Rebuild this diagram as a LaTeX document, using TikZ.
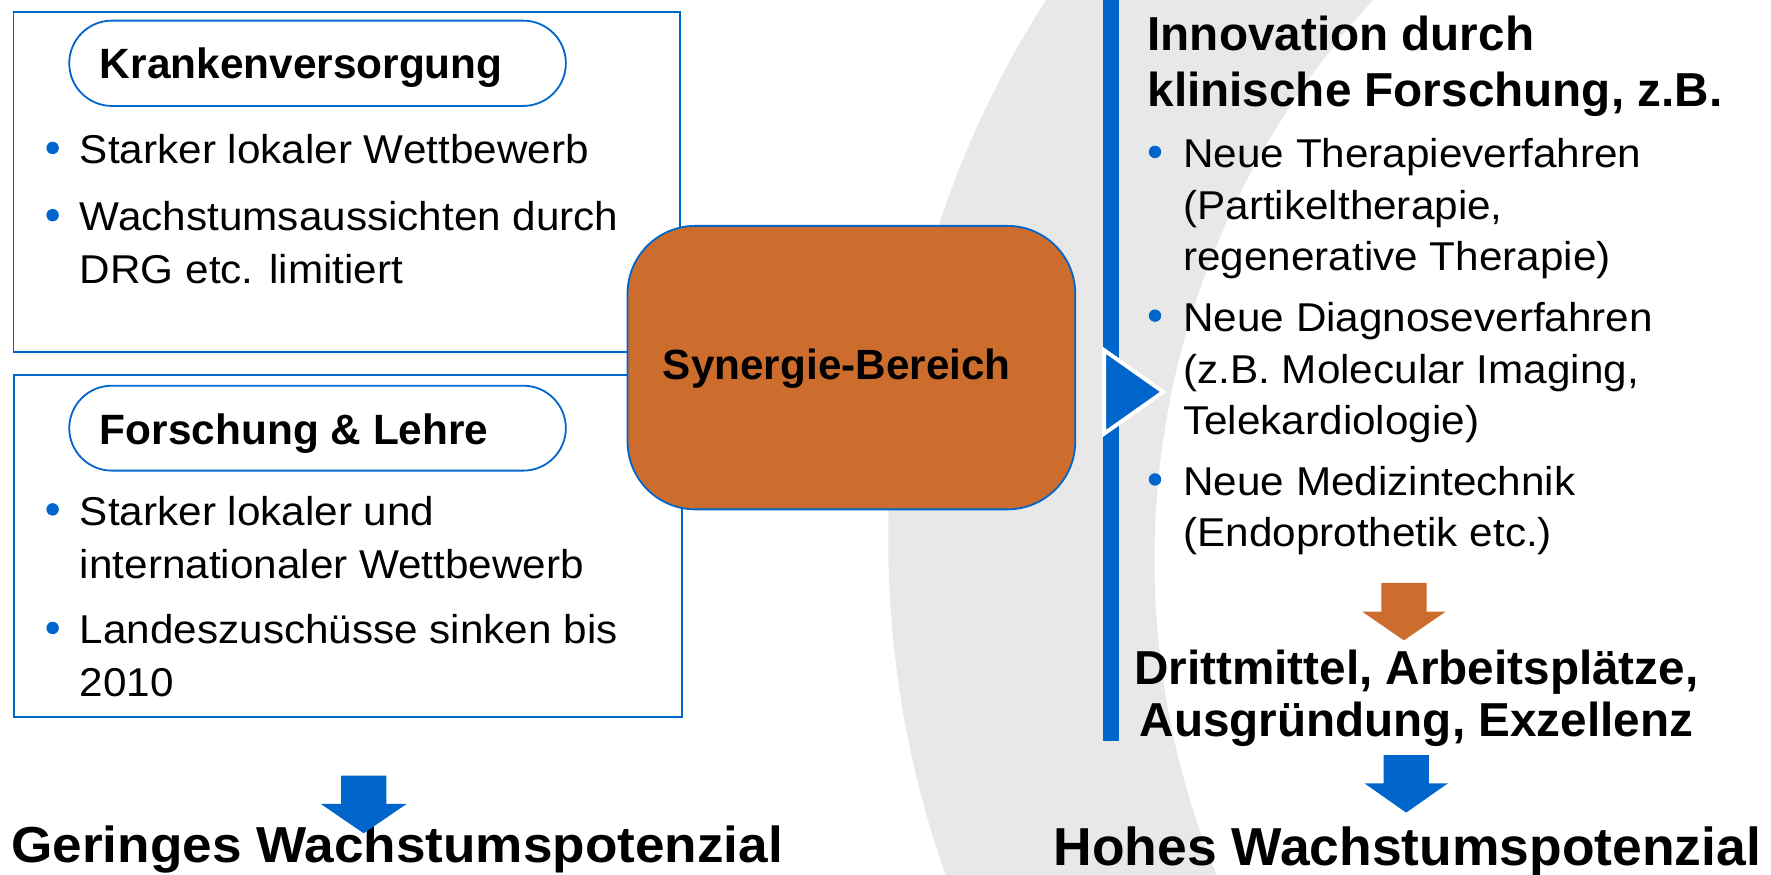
\documentclass[tikz,border=0pt]{standalone}
\usepackage{fontspec}
\setmainfont{Liberation Sans}
\newfontfamily\fbody{Liberation Sans}[FakeStretch=1.05]
\newfontfamily\fbig{Liberation Sans}[FakeStretch=1.05]
\definecolor{myblue}{RGB}{0,102,204}
\definecolor{myorange}{RGB}{204,109,46}
\definecolor{mygray}{RGB}{232,232,232}
\begin{document}
\begin{tikzpicture}[x=0.01cm,y=-0.01cm,
  txt/.style={inner sep=0pt, outer sep=0pt, anchor=base west, text=black},
  bodyL/.style={txt, font=\fbody\fontsize{10.13pt}{11pt}\selectfont},
  headL/.style={txt, font=\bfseries\fontsize{10.67pt}{12pt}\selectfont},
  headR/.style={txt, font=\bfseries\fontsize{12.0pt}{14pt}\selectfont},
  synt/.style={txt, font=\bfseries\fontsize{10.64pt}{12pt}\selectfont},
  bigL/.style={txt, font=\fbig\bfseries\fontsize{12.74pt}{14pt}\selectfont},
  bigR/.style={txt, font=\bfseries\fontsize{13.45pt}{15pt}\selectfont},
  frame/.style={draw=myblue, line width=0.016cm},
  dot/.style={fill=myblue}
]
\useasboundingbox (0,0) rectangle (1568,774);
\fill[white] (0,0) rectangle (1568,774);
% grey crescent band
\begin{scope}
  \clip (0,0) rectangle (1568,774);
  \fill[mygray, even odd rule] (1674.0,478.1) circle[radius=8.870cm]
                               (1753.7,495.8) circle[radius=7.311cm];
\end{scope}

% left boxes
\draw[frame, fill=white] (12,10.3) rectangle (602,311.4);
\draw[frame, fill=white, rounded corners=0.377cm] (61.3,18.3) rectangle (501,93.8);
\draw[frame, fill=white] (12.6,332) rectangle (603.5,634.5);
\draw[frame, fill=white, rounded corners=0.377cm] (61.3,341.5) rectangle (501,416.7);

\node[headL] (kv) at (88.5,69.3) {Krankenversorgung};
\fill[dot] (46.6,131) circle[radius=0.055cm];
\node[bodyL] (l1a) at (70.8,145) {Starker lokaler Wettbewerb};
\fill[dot] (46.6,190.5) circle[radius=0.055cm];
\node[bodyL] (l2a) at (70.8,204.5) {Wachstumsaussichten durch};
\node[bodyL] (l2b) at (70.8,251) {DRG etc. limitiert};

\node[headL] (fl) at (88.5,394) {Forschung \& Lehre};
\fill[dot] (46.6,451) circle[radius=0.055cm];
\node[bodyL] (l3a) at (70.8,465) {Starker lokaler und};
\node[bodyL] (l3b) at (70.8,512) {internationaler Wettbewerb};
\fill[dot] (46.6,556) circle[radius=0.055cm];
\node[bodyL] (l4a) at (70.8,570) {Landeszuschüsse sinken bis};
\node[bodyL] (l4b) at (70.8,617) {2010};

% synergy box
\draw[frame, fill=myorange, rounded corners=0.6cm] (555.6,200) rectangle (952,451);
\node[synt] (syn) at (587,336) {Synergie-Bereich};

% blue bar and triangle
\fill[myblue] (977,0) rectangle (991,656);
\draw[white, fill=myblue, line width=0.035cm, miter limit=10]
  (977.5,310) -- (1030,347) -- (977.5,384) -- cycle;

% right text
\node[headR] (in1) at (1016,44.3) {Innovation durch};
\node[headR] (in2) at (1016,94.4) {klinische Forschung, z.B.};
\fill[dot] (1022.6,134.5) circle[radius=0.055cm];
\node[bodyL] (r1a) at (1047.7,148.5) {Neue Therapieverfahren};
\node[bodyL] (r1b) at (1047.7,194) {(Partikeltherapie,};
\node[bodyL] (r1c) at (1047.7,239.5) {regenerative Therapie)};
\fill[dot] (1022.6,279.5) circle[radius=0.055cm];
\node[bodyL] (r2a) at (1047.7,293.5) {Neue Diagnoseverfahren};
\node[bodyL] (r2b) at (1047.7,339.5) {(z.B. Molecular Imaging,};
\node[bodyL] (r2c) at (1047.7,385) {Telekardiologie)};
\fill[dot] (1022.6,424.5) circle[radius=0.055cm];
\node[bodyL] (r3a) at (1047.7,438.5) {Neue Medizintechnik};
\node[bodyL] (r3b) at (1047.7,484) {(Endoprothetik etc.)};

\node[headR, anchor=base] (dr1) at (1254,606) {Drittmittel, Arbeitsplätze,};
\node[headR, anchor=base] (dr2) at (1254,652) {Ausgründung, Exzellenz};

\node[bigR, anchor=base] (hohes) at (1246,766) {Hohes Wachstumspotenzial};
\node[bigL] (geringes) at (10,764) {Geringes Wachstumspotenzial};

% block arrows
\fill[myorange] (1223,516) -- (1263,516) -- (1263,541.5) -- (1280,541.5)
  -- (1243,567) -- (1206,541.5) -- (1223,541.5) -- cycle;
\fill[myblue] (1225,668.5) -- (1265,668.5) -- (1265,693.5) -- (1282,693.5)
  -- (1245,719.5) -- (1208,693.5) -- (1225,693.5) -- cycle;
\fill[myblue] (302,686.8) -- (342,686.8) -- (342,711.8) -- (360,711.8)
  -- (322,737.8) -- (284,711.8) -- (302,711.8) -- cycle;
\end{tikzpicture}
\end{document}
